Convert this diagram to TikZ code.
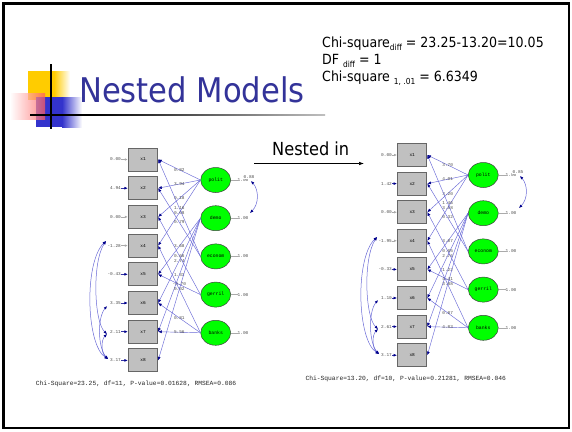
\documentclass[tikz,border=0pt]{standalone}
\usepackage{fontspec}
\usepackage{graphicx}
\setmainfont{DejaVu Sans}
\newfontfamily\tahoma[FakeStretch=0.9]{DejaVu Sans}
\newfontfamily\lisfont{Liberation Mono}
\usetikzlibrary{shapes.geometric,arrows.meta}

\definecolor{titleblue}{RGB}{51,51,153}
\definecolor{sqyellow}{RGB}{255,204,0}
\definecolor{sqblue}{RGB}{51,51,204}
\definecolor{sqred}{RGB}{255,90,90}
\definecolor{lineblue}{RGB}{105,105,215}
\definecolor{tipblue}{RGB}{0,0,140}
\definecolor{boxgray}{RGB}{192,192,192}
\definecolor{fixgray}{RGB}{170,170,170}
\definecolor{latgreen}{RGB}{0,255,0}

\newcommand\lsub[1]{\raisebox{-2.7pt}{\fontsize{8.3}{8.3}\selectfont #1}}

\tikzset{
  obsbox/.style={rectangle, draw=black!60, fill=boxgray, line width=0.9pt,
    minimum width=29.4pt, minimum height=23pt, inner sep=0pt,
    font=\lisfont\fontsize{4.5}{5}\selectfont},
  latent/.style={ellipse, draw=black!75, fill=latgreen, line width=0.5pt,
    minimum width=30pt, minimum height=25pt, inner sep=0pt,
    font=\lisfont\fontsize{4.8}{5}\selectfont},
  loadln/.style={draw=lineblue, line width=0.45pt,
    -{Latex[length=3.6pt,width=3pt,color=tipblue]}},
  lisnum/.style={font=\lisfont\fontsize{4.4}{4.6}\selectfont, text=black!70, inner sep=0pt},
  errfree/.style={draw=tipblue!80, line width=0.6pt,
    -{Latex[length=3.4pt,width=2.8pt,color=tipblue]}},
  errfix/.style={draw=fixgray, line width=0.6pt, -{Latex[length=3pt,width=2.6pt]}},
  varline/.style={draw=fixgray, line width=0.6pt},
  covarc/.style={draw=lineblue, line width=0.5pt,
    {Latex[length=3.4pt,width=2.8pt,color=tipblue]}-{Latex[length=3.4pt,width=2.8pt,color=tipblue]}},
  fittext/.style={font=\lisfont\fontsize{6.3}{7}\selectfont, text=black!85, inner sep=0pt},
  slidetext/.style={font=\tahoma\fontsize{14}{16}\selectfont, anchor=base west, inner sep=0pt},
}

\begin{document}
\begin{tikzpicture}[x=1pt,y=-1pt]
\useasboundingbox (0,0) rectangle (572,431);
\fill[white] (0,0) rectangle (572,431);
\draw[line width=2.5pt] (3.5,3.5) rectangle (569,428);

% corner ornament
\fill[sqyellow] (28,71) rectangle (54,100);
\shade[left color=sqyellow, right color=white] (54,71) rectangle (70,100);
\fill[sqblue] (36,97) rectangle (62,127);
\shade[left color=sqblue, right color=white] (62,97) rectangle (82,127);
\shade[left color=white, right color=sqred, fill opacity=0.72] (10,93) rectangle (45,119);
\draw[line width=1.3pt] (51,64) -- (51,129);
\fill[black] (30,114.3) rectangle (90,115.7);
\shade[left color=black, right color=black!25] (90,114.3) rectangle (325,115.7);

% title and test statistics
\node[anchor=base west, inner sep=0pt, text=titleblue,
  font=\tahoma\fontsize{34}{36}\selectfont] (title) at (79,102.3) {Nested Models};
\node[slidetext] (chi1) at (322,47.5) {Chi-square\lsub{diff} = 23.25-13.20=10.05};
\node[slidetext] (chi2) at (322,64.5) {DF \lsub{diff} = 1};
\node[slidetext] (chi3) at (322,81.5) {Chi-square \lsub{1, .01} = 6.6349};

\node[anchor=base west, inner sep=0pt, font=\tahoma\fontsize{18}{20}\selectfont] (nested) at (272,155) {Nested in};
\coordinate (na) at (254,163.5);
\coordinate (nb) at (364,163.5);
\draw[line width=0.7pt, -{Latex[length=5pt,width=3.6pt]}] (na) -- (nb);

% ---------------- first model ----------------
\foreach \i [evaluate=\i as \yy using {159.5+28.7*(\i-1)}] in {1,...,8}
  \node[obsbox] (Lx\i) at (143,\yy) {x\i};

\node[latent] (Lpolit) at (215.7,180)   {polit};
\node[latent] (Ldemo)  at (215.7,218.2) {demo};
\node[latent] (Lecon)  at (215.7,256.4) {econom};
\node[latent] (Lgerr)  at (215.7,294.6) {gerril};
\node[latent] (Lbank)  at (215.7,332.8) {banks};

\draw[loadln] (Lpolit.west) -- node[lisnum]{0.82} (Lx1.east);
\draw[loadln] (Lpolit.west) -- node[lisnum]{3.94} (Lx2.east);
\draw[loadln] (Lpolit.west) -- node[lisnum]{0.18} (Lx3.east);
\draw[loadln] (Lpolit.west) -- node[lisnum]{0.08} (Lx4.east);
\draw[loadln] (Lecon.west)  -- node[lisnum]{1.16} (Lx1.east);
\draw[loadln] (Lecon.west)  -- node[lisnum]{0.79} (Lx2.east);
\draw[loadln] (Ldemo.west)  -- node[lisnum]{3.68} (Lx5.east);
\draw[loadln] (Ldemo.west)  -- node[lisnum]{2.74} (Lx6.east);
\draw[loadln] (Ldemo.west)  -- node[lisnum]{1.33} (Lx7.east);
\draw[loadln] (Ldemo.west)  -- node[lisnum]{0.02} (Lx8.east);
\draw[loadln] (Lgerr.west)  -- node[lisnum]{0.66} (Lx3.east);
\draw[loadln] (Lgerr.west)  -- node[lisnum]{-0.70} (Lx5.east);
\draw[loadln] (Lbank.west)  -- (Lx4.east);
\draw[loadln] (Lbank.west)  -- node[lisnum]{0.81} (Lx6.east);
\draw[loadln] (Lbank.west)  -- node[lisnum]{5.56} (Lx7.east);

\foreach \i/\v/\s [evaluate=\i as \yy using {159.5+28.7*(\i-1)}] in
  {1/0.00/errfix, 2/4.94/errfree, 3/0.00/errfix, 4/-1.28/errfix,
   5/-0.43/errfree, 6/3.35/errfree, 7/2.11/errfree, 8/3.17/errfree}{
  \node[lisnum, anchor=east] (Le\i) at (121,\yy) {\v};
  \draw[\s] (Le\i) -- (Lx\i);
}

\foreach \n/\yy in {Lpolit/180, Ldemo/218.2, Lecon/256.4, Lgerr/294.6, Lbank/332.8}{
  \node[lisnum] (\n v) at (243,\yy) {1.00};
  \draw[varline] (\n.east) -- (\n v);
}
\node[lisnum, fill=white, inner sep=0.3pt] (Lcv) at (249,177) {0.88};
\coordinate (Lk1) at (251,181);
\coordinate (Lk2) at (250,213);
\draw[covarc] (Lk1) .. controls (259,190) and (259,204) .. (Lk2);

\coordinate (La4) at (106,241);
\coordinate (La6) at (107,306);
\coordinate (La7) at (107,334);
\coordinate (La8) at (108,359);
\draw[covarc] (La4) .. controls (84,262) and (86,345) .. (La8);
\draw[covarc] (La4) .. controls (92,262) and (94,322) .. (La7);
\draw[covarc] (La6) .. controls (97,318) and (98,348) .. (La8);
\draw[covarc] (La7) .. controls (101,340) and (101,353) .. (La8);

\node[fittext] (Lfit) at (136,383.5) {Chi-Square=23.25, df=11, P-value=0.01628, RMSEA=0.086};

% ---------------- second model ----------------
\foreach \i [evaluate=\i as \yy using {155+28.6*(\i-1)}] in {1,...,8}
  \node[obsbox] (Rx\i) at (412.2,\yy) {x\i};

\node[latent] (Rpolit) at (483.3,175)   {polit};
\node[latent] (Rdemo)  at (483.3,213.2) {demo};
\node[latent] (Recon)  at (483.3,251.4) {econom};
\node[latent] (Rgerr)  at (483.3,289.6) {gerril};
\node[latent] (Rbank)  at (483.3,327.8) {banks};

\draw[loadln] (Rpolit.west) -- node[lisnum]{3.70} (Rx1.east);
\draw[loadln] (Rpolit.west) -- node[lisnum]{4.01} (Rx2.east);
\draw[loadln] (Rpolit.west) -- node[lisnum]{3.20} (Rx3.east);
\draw[loadln] (Rpolit.west) -- node[lisnum]{3.58} (Rx4.east);
\draw[loadln] (Recon.west)  -- node[lisnum]{1.46} (Rx1.east);
\draw[loadln] (Recon.west)  -- node[lisnum]{0.32} (Rx2.east);
\draw[loadln] (Rdemo.west)  -- node[lisnum]{3.07} (Rx5.east);
\draw[loadln] (Rdemo.west)  -- node[lisnum]{2.76} (Rx6.east);
\draw[loadln] (Rdemo.west)  -- node[lisnum]{1.22} (Rx7.east);
\draw[loadln] (Rdemo.west)  -- node[lisnum]{3.88} (Rx8.east);
\draw[loadln] (Rgerr.west)  -- node[lisnum]{0.05} (Rx3.east);
\draw[loadln] (Rgerr.west)  -- node[lisnum]{4.41} (Rx5.east);
\draw[loadln] (Rbank.west)  -- (Rx4.east);
\draw[loadln] (Rbank.west)  -- node[lisnum]{0.87} (Rx6.east);
\draw[loadln] (Rbank.west)  -- node[lisnum]{4.83} (Rx7.east);

\foreach \i/\v/\s [evaluate=\i as \yy using {155+28.6*(\i-1)}] in
  {1/0.00/errfix, 2/1.42/errfree, 3/0.00/errfix, 4/-1.95/errfix,
   5/-0.33/errfree, 6/1.10/errfree, 7/2.61/errfree, 8/3.17/errfree}{
  \node[lisnum, anchor=east] (Re\i) at (392,\yy) {\v};
  \draw[\s] (Re\i) -- (Rx\i);
}

\foreach \n/\yy in {Rpolit/175, Rdemo/213.2, Recon/251.4, Rgerr/289.6, Rbank/327.8}{
  \node[lisnum] (\n v) at (511,\yy) {1.00};
  \draw[varline] (\n.east) -- (\n v);
}
\node[lisnum, fill=white, inner sep=0.3pt] (Rcv) at (518,172) {0.85};
\coordinate (Rk1) at (520,176);
\coordinate (Rk2) at (519,208);
\draw[covarc] (Rk1) .. controls (528,185) and (528,199) .. (Rk2);

\coordinate (Ra4) at (377,237);
\coordinate (Ra6) at (378,300);
\coordinate (Ra7) at (378,329);
\coordinate (Ra8) at (379,354);
\draw[covarc] (Ra4) .. controls (355,258) and (357,340) .. (Ra8);
\draw[covarc] (Ra4) .. controls (363,258) and (365,317) .. (Ra7);
\draw[covarc] (Ra6) .. controls (368,312) and (369,343) .. (Ra8);
\draw[covarc] (Ra7) .. controls (372,335) and (372,348) .. (Ra8);

\node[fittext] (Rfit) at (405.7,379) {Chi-Square=13.20, df=10, P-value=0.21281, RMSEA=0.046};
\end{tikzpicture}
\end{document}
